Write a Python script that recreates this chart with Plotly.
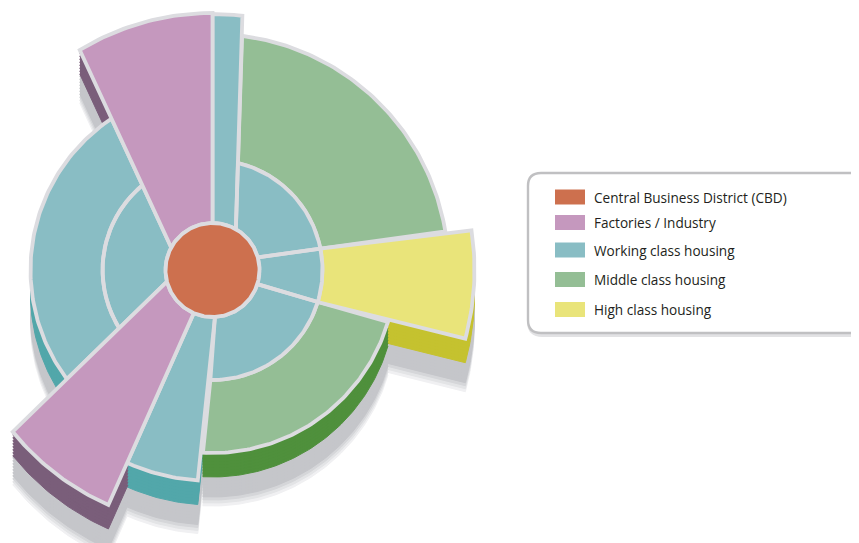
import math
import plotly.graph_objects as go

PAGE_OFF = 8                       # default body margin of the html page
FW, FH = 859 - PAGE_OFF, 543 - PAGE_OFF
CX, CY = 212.5 - PAGE_OFF, 270 - PAGE_OFF   # diagram centre in figure px

# ---------------- data -------------------------------------------------------------
# Each piece: inner arc (start, end angle at r_in) and outer arc (start, end angle at r_out);
# angles in degrees counter-clockwise from east, radii in px.
categories = ["Central Business District (CBD)", "Factories / Industry",
              "Working class housing", "Middle class housing", "High class housing"]
face_colors = ["#cd704e", "#c598be", "#89bdc4", "#94be95", "#e9e47a"]
side_colors = ["#a85a3f", "#7a5e7a", "#52a7aa", "#4f903c", "#c5c22f"]

cbd_in_start, cbd_in_end, cbd_r_in = [0], [360], [0]
cbd_out_start, cbd_out_end, cbd_r_out = [0], [360], [47]

factory_in_start = [90, 194.4]
factory_in_end = [151.4, 246.5]
factory_r_in = [47, 47]
factory_out_start = [90, 219]
factory_out_end = [121.1, 246.1]
factory_r_out = [257, 257]

working_in_start = [15.6, -17.5, -87, -113.5, 151.4, 129.6, 60.2]
working_in_end = [60.2, 15.6, -17.5, -87, 194.4, 211.9, 90]
working_r_in = [47, 47, 47, 47, 47, 110, 47]
working_out_start = [11.2, -16.9, -91.1, -113.9, 129.6, 123.7, 83.3]
working_out_end = [76.6, 11.2, -16.9, -94, 211.9, 216.8, 90]
working_r_out = [110, 110, 110, 211, 110, 182, 256]

middle_in_start = [11.2, -91.1]
middle_in_end = [76.6, -16.9]
middle_r_in = [110, 110]
middle_out_start = [9.4, -93]
middle_out_end = [82.8, -16.5]
middle_r_out = [236, 183]

high_in_start = [-16.9]
high_in_end = [11.2]
high_r_in = [110]
high_out_start = [-15.2]
high_out_end = [8.7]
high_r_out = [262]

geometry = [
    (cbd_in_start, cbd_in_end, cbd_r_in, cbd_out_start, cbd_out_end, cbd_r_out),
    (factory_in_start, factory_in_end, factory_r_in, factory_out_start, factory_out_end, factory_r_out),
    (working_in_start, working_in_end, working_r_in, working_out_start, working_out_end, working_r_out),
    (middle_in_start, middle_in_end, middle_r_in, middle_out_start, middle_out_end, middle_r_out),
    (high_in_start, high_in_end, high_r_in, high_out_start, high_out_end, high_r_out),
]
draw_order = [3, 4, 2, 1, 0]

STROKE = "#dcdce0"
shadow_layers = [(53, "#f0f0f2"), (50, "#e3e4e6"), (47, "#d5d6d9")] + \
                [(o, "#c5c6ca") for o in (44, 41, 38, 35, 32, 29, 26)]
side_layers = [24, 21, 18, 15, 12, 9, 6, 3]


def arc(a0, a1, r):
    n = max(2, int(math.ceil(abs(a1 - a0))) + 1)
    th = [a0 + (a1 - a0) * k / (n - 1) for k in range(n)]
    return th, [r] * n


def category_xy(c, drop):
    """polar pieces -> closed outlines on a 1 unit = 1 px plane, lowered by `drop`"""
    ins, ine, rin, outs, oute, rout = geometry[c]
    xs, ys = [], []
    for i in range(len(ins)):
        t1, r1 = ([], []) if rin[i] <= 0 else arc(ins[i], ine[i], rin[i])
        t2, r2 = arc(oute[i], outs[i], rout[i])
        th, rr = t1 + t2, r1 + r2
        th.append(th[0])
        rr.append(rr[0])
        xs += [r * math.cos(math.radians(t)) for t, r in zip(th, rr)] + [None]
        ys += [r * math.sin(math.radians(t)) - drop for t, r in zip(th, rr)] + [None]
    return xs[:-1], ys[:-1]


fig = go.Figure()


def add_layer(drop, fill_fn, line_fn, line_w):
    for c in draw_order:
        xs, ys = category_xy(c, drop)
        fig.add_trace(go.Scatter(
            x=xs, y=ys, mode="lines", fill="toself", fillcolor=fill_fn(c),
            line=dict(color=line_fn(c), width=line_w), cliponaxis=False,
            name=categories[c], showlegend=False, hoverinfo="skip"))


for off, col in shadow_layers:
    add_layer(off, lambda c, col=col: col, lambda c, col=col: col, 1)
for off in side_layers:
    add_layer(off, lambda c: side_colors[c], lambda c: side_colors[c], 1)
add_layer(0, lambda c: face_colors[c], lambda c: STROKE, 3.8)

# ---------------- legend box ----------------
X = lambda v: (v - PAGE_OFF) / FW
Y = lambda v: 1 - (v - PAGE_OFF) / FH


def rounded(x0, y0, x1, y1, r):
    return (f"M{X(x0 + r)},{Y(y0)} L{X(x1 - r)},{Y(y0)} Q{X(x1)},{Y(y0)} {X(x1)},{Y(y0 + r)} "
            f"L{X(x1)},{Y(y1 - r)} Q{X(x1)},{Y(y1)} {X(x1 - r)},{Y(y1)} "
            f"L{X(x0 + r)},{Y(y1)} Q{X(x0)},{Y(y1)} {X(x0)},{Y(y1 - r)} "
            f"L{X(x0)},{Y(y0 + r)} Q{X(x0)},{Y(y0)} {X(x0 + r)},{Y(y0)} Z")


shapes = [
    dict(type="path", xref="paper", yref="paper", path=rounded(529.5, 174.5, 880, 334.5, 13),
         line=dict(color="#e2e2e4", width=5), fillcolor="rgba(0,0,0,0)"),
    dict(type="path", xref="paper", yref="paper", path=rounded(528, 173, 878, 333, 13),
         line=dict(color="#c0c0c2", width=2.4), fillcolor="white"),
]

row_y = [197, 222.5, 250, 279.5, 309.5]
annotations = []
for k, name in enumerate(categories):
    yc = row_y[k]
    shapes.append(dict(type="rect", xref="paper", yref="paper",
                       x0=X(555), x1=X(585), y0=Y(yc - 7.5), y1=Y(yc + 7.5),
                       fillcolor=face_colors[k], line=dict(width=0)))
    annotations.append(dict(text=name, xref="paper", yref="paper", x=X(592), y=Y(yc),
                            xanchor="left", yanchor="middle", showarrow=False,
                            font=dict(family="Open Sans", size=13.6, color="#231f20")))

axis_common = dict(visible=False, showgrid=False, zeroline=False, fixedrange=True)
fig.update_layout(width=FW, height=FH, margin=dict(l=0, r=0, t=0, b=0),
                  paper_bgcolor="white", plot_bgcolor="white", showlegend=False,
                  xaxis=dict(range=[-CX, FW - CX], domain=[0, 1], **axis_common),
                  yaxis=dict(range=[-(FH - CY), CY], domain=[0, 1], **axis_common),
                  shapes=shapes, annotations=annotations)

fig.write_html("out.html")
